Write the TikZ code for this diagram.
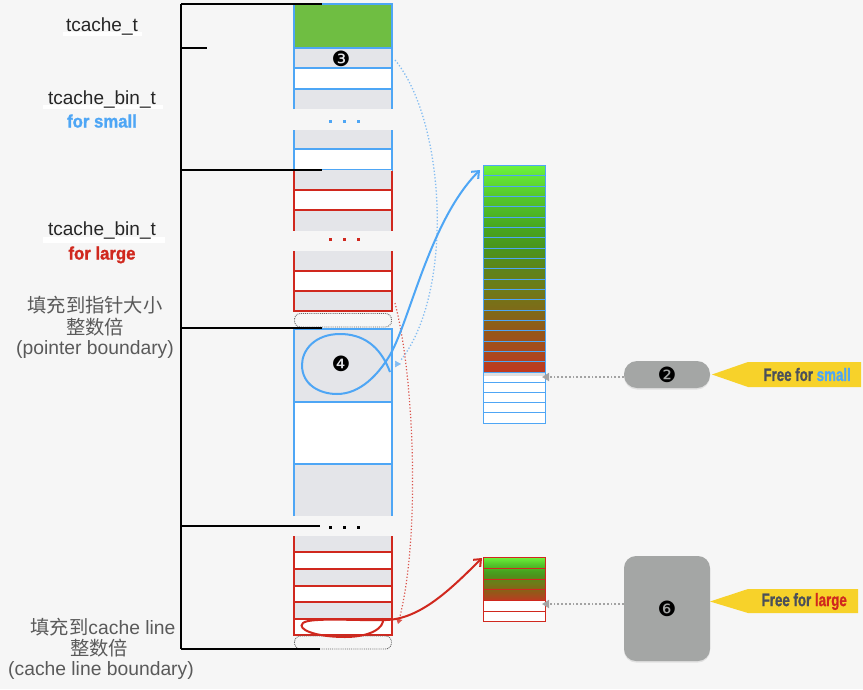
\documentclass[tikz,border=0pt]{standalone}
\usepackage{fontspec}
\setmainfont{Liberation Sans}
\newfontfamily\cjk{Noto Sans CJK SC}
\newfontfamily\dings{DejaVu Sans}
\newfontfamily\impactf[FakeBold=1.2]{Liberation Sans Bold}
\usetikzlibrary{arrows.meta,shadows}
\definecolor{bg}{HTML}{F6F6F6}
\definecolor{bl}{HTML}{4EA6F5}
\definecolor{lbl}{HTML}{84BDF2}
\definecolor{rd}{HTML}{D0281E}
\definecolor{rowg}{HTML}{E4E5E9}
\definecolor{grn}{HTML}{6FBE42}
\definecolor{pill}{HTML}{A4A6A5}
\definecolor{yel}{HTML}{F7D22A}
\definecolor{txtd}{HTML}{4A4F5A}
\definecolor{lab}{HTML}{5A5A5A}
\definecolor{arrg}{HTML}{A3A3A3}
\definecolor{hA}{HTML}{C0381F}
\definecolor{hB}{HTML}{A84A1E}
\definecolor{hC}{HTML}{945818}
\definecolor{hD}{HTML}{7E6A18}
\definecolor{hE}{HTML}{6F7A18}
\definecolor{hF}{HTML}{5E841A}
\definecolor{hG}{HTML}{4A951C}
\definecolor{hH}{HTML}{47A620}
\definecolor{hI}{HTML}{55C82C}
\definecolor{hJ}{HTML}{6CF23C}
\pgfdeclareverticalshading{heat}{100bp}{color(0bp)=(hA); color(25bp)=(hA); color(30bp)=(hB); color(35bp)=(hC); color(40bp)=(hD); color(45bp)=(hE); color(50bp)=(hF); color(55bp)=(hG); color(60bp)=(hH); color(67.5bp)=(hI); color(75bp)=(hJ); color(100bp)=(hJ)}
\newcommand{\impactb}[3]{\scalebox{#1}[1]{\fontsize{#2}{#2}\impactf #3}}
\begin{document}
\begin{tikzpicture}[x=1pt,y=-1pt,
  bline/.style={bl,line width=1.1},
  rline/.style={rd,line width=1.1},
  brk/.style={black,line width=1.2},
  lbltxt/.style={font=\fontsize{19}{19}\selectfont,text=black!85,anchor=base,inner sep=0},
  cjktxt/.style={font=\fontsize{19.3}{19.3}\selectfont,text=lab,anchor=base,inner sep=0},
  boundbox/.style={densely dotted,black!60,line width=0.9,rounded corners=6},
  pillbox/.style={fill=pill,draw=none,inner sep=0,drop shadow={shadow xshift=0pt,shadow yshift=-1.5pt,opacity=0.18}},
  numtxt/.style={font=\dings\fontsize{21}{21}\selectfont,inner sep=0},
  dotsq/.style={minimum size=3,inner sep=0,draw=none}]
\useasboundingbox (0,0) rectangle (863,689);
\fill[bg] (0,0) rectangle (863,689);

% ---------- main column ----------
% block A (tcache_t + small bins)
\fill[grn] (294,4) rectangle (392,48);
\fill[rowg] (294,48) rectangle (392,68);
\fill[white] (294,68) rectangle (392,89);
\fill[rowg] (294,89) rectangle (392,109);
\draw[bline] (294,109) -- (294,4) -- (392,4) -- (392,109);
\foreach \yy in {48,68,89} \draw[bline] (294,\yy) -- (392,\yy);
\fill[rowg] (294,130) rectangle (392,149);
\fill[white] (294,149) rectangle (392,170);
\draw[bline] (294,130) -- (294,170) -- (392,170) -- (392,130);
\draw[bline] (294,149) -- (392,149);
\foreach \xx/\nm in {330/a,344/b,358/c} \node[dotsq,fill=bl] (bd\nm) at (\xx,121) {};
% block C/D (large bins)
\fill[rowg] (294,170) rectangle (392,190);
\fill[white] (294,190) rectangle (392,210);
\fill[rowg] (294,210) rectangle (392,231);
\draw[rline] (294,170.6) -- (294,231);
\draw[rline] (392,170.6) -- (392,231);
\foreach \yy in {190,210} \draw[rline] (294,\yy) -- (392,\yy);
\foreach \xx/\nm in {330/a,344/b,358/c} \node[dotsq,fill=rd] (rd\nm) at (\xx,239) {};
\fill[rowg] (294,251) rectangle (392,271);
\fill[white] (294,271) rectangle (392,291);
\fill[rowg] (294,291) rectangle (392,311);
\draw[rline] (294,251) -- (294,311) -- (392,311) -- (392,251);
\foreach \yy in {271,291} \draw[rline] (294,\yy) -- (392,\yy);
\draw[boundbox] (294.5,313.5) rectangle (391.5,327);
% block E
\fill[rowg] (294,329) rectangle (392,402);
\fill[white] (294,402) rectangle (392,464);
\fill[rowg] (294,464) rectangle (392,516);
\draw[bline] (294,516) -- (294,329) -- (392,329) -- (392,516);
\foreach \yy in {402,464} \draw[bline] (294,\yy) -- (392,\yy);
\foreach \xx/\nm in {330/a,344/b,358/c} \node[dotsq,fill=black] (kd\nm) at (\xx,527.5) {};
% block F
\fill[rowg] (294,536) rectangle (392,552);
\fill[white] (294,552) rectangle (392,569);
\fill[rowg] (294,569) rectangle (392,586);
\fill[white] (294,586) rectangle (392,602);
\fill[rowg] (294,602) rectangle (392,619);
\fill[white] (294,619) rectangle (392,635);
\draw[rline] (294,536) -- (294,635) -- (392,635) -- (392,536);
\foreach \yy in {552,569,586,602,619} \draw[rline] (294,\yy) -- (392,\yy);
\draw[boundbox] (294.5,636) rectangle (391.5,649);

% numbers
\node[numtxt] (n3) at (341,59) {❸};
\node[numtxt] (n4) at (341,364) {❹};

% ---------- bracket ----------
\draw[brk] (181,4) -- (181,649);
\draw[brk] (181,4) -- (322,4);
\draw[brk] (181,48) -- (207,48);
\draw[brk] (181,170) -- (322,170);
\draw[brk] (181,328) -- (322,328);
\draw[brk] (181,526) -- (320,526);
\draw[brk] (181,649) -- (320,649);

% ---------- left labels ----------
\fill[white] (63,32) rectangle (142,35.5);
\node[lbltxt] (l1) at (102,31) {tcache\_t};
\fill[white] (43,105) rectangle (163,109);
\node[lbltxt] (l2) at (102,104) {tcache\_bin\_t};
\node[anchor=base,inner sep=0,text=bl] (l2b) at (102,127.5) {\impactb{0.93}{18}{for small}};
\fill[white] (43,237) rectangle (165,243);
\node[lbltxt] (l3) at (102,235) {tcache\_bin\_t};
\node[anchor=base,inner sep=0,text=rd] (l3b) at (102,259.5) {\impactb{0.93}{18}{for large}};

\node[cjktxt] (c1a) at (95,312) {{\cjk 填充到指针大小}};
\node[cjktxt] (c1b) at (95,334) {{\cjk 整数倍}};
\node[cjktxt] (c1c) at (95,354) {(pointer boundary)};
\node[cjktxt] (c2a) at (103,634) {{\cjk 填充到}cache line};
\node[cjktxt] (c2b) at (99,655) {{\cjk 整数倍}};
\node[cjktxt] (c2c) at (101,675) {(cache line boundary)};

% ---------- small-size cache column ----------
\fill[white] (483,372) rectangle (545,423);
\fill[black,opacity=0.12] (483,372) rectangle (545,375.5);
\shade[shading=heat] (483,165.3) rectangle (545,372);
\foreach \i in {1,...,19} \draw[bline,line width=0.9] (483,165.3+\i*10.335) -- (545,165.3+\i*10.335);
\foreach \i in {0,...,4} \draw[bline,line width=0.9] (483,372+\i*10.2) -- (545,372+\i*10.2);
\draw[bline,line width=0.9] (483,165.3) rectangle (545,423);
\coordinate (sTop) at (480,170);
\coordinate (sFree) at (542,377);

% ---------- large-size cache column ----------
\fill[white] (483,600.7) rectangle (545,621.7);
\shade[shading=heat] (483,557.3) rectangle (545,600.7);
\foreach \i in {1,2,3} \draw[rline,line width=0.9] (483,557.3+\i*10.85) -- (545,557.3+\i*10.85);
\foreach \i in {0,1} \draw[rline,line width=0.9] (483,600.7+\i*10.5) -- (545,600.7+\i*10.5);
\draw[rline,line width=0.9] (483,557.3) rectangle (545,621.7);
\coordinate (lTop) at (482,558);
\coordinate (lFree) at (542,604);

% ---------- free markers ----------
\node[pillbox,rounded corners=13,minimum width=86,minimum height=27] (p2) at (667,374.5) {};
\node[numtxt] at (p2) {❷};
\node[pillbox,rounded corners=12,minimum width=86,minimum height=105] (p6) at (667,608.5) {};
\node[numtxt] at (p6) {❻};

\fill[yel] (712,374.5) -- (748,362) -- (861,362) -- (861,387) -- (748,387) -- cycle;
\node[anchor=east,inner sep=0,text=txtd] (fs) at (851,374.5) {\impactb{0.74}{18}{Free for \textcolor{bl}{small}}};
\fill[yel] (710,601.5) -- (748,589) -- (858,589) -- (858,613) -- (748,613) -- cycle;
\node[anchor=east,inner sep=0,text=txtd] (fl) at (847,601.5) {\impactb{0.74}{18}{Free for \textcolor{rd}{large}}};

% gray dotted arrows
\draw[arrg,line width=1.8,dash pattern=on 1.8pt off 2pt,-{Triangle[length=7,width=8]}] (p2.west |- sFree) -- (sFree);
\draw[arrg,line width=1.8,dash pattern=on 1.8pt off 2pt,-{Triangle[length=7,width=8]}] (p6.west |- lFree) -- (lFree);

% ---------- curves ----------
\coordinate (b3) at (395,60);
\coordinate (b4) at (401,360);
\coordinate (b4t) at (401,364);
\draw[lbl,line width=1.3,dotted] (b3) .. controls (445,120) and (455,290) .. (b4);
\draw[lbl,line width=0.5,-{Triangle[length=6,width=6.5]}] ([xshift=-6.5pt]b4t) -- (b4t);
\coordinate (r1) at (395,303);
\coordinate (r2) at (398,624);
\draw[rd!80,line width=1.2,dotted,-{Triangle[length=5,width=6]}] (r1) .. controls (415,380) and (420,540) .. (r2);

\coordinate (bs) at (390,372);
\draw[bl,line width=2,-{Straight Barb[length=6,width=10]}] (bs) .. controls (380,345) and (362,334) .. (340,334)
  .. controls (315,334) and (302,350) .. (302,365)
  .. controls (302,385) and (320,394) .. (337,394)
  .. controls (360,394) and (378,375) .. (390,355)
  .. controls (410,320) and (430,220) .. (sTop);
\coordinate (rs) at (383,618);
\draw[rd,line width=2,-{Straight Barb[length=6,width=10]}] (rs) .. controls (385,628) and (370,637) .. (345,637)
  .. controls (315,637) and (296,629) .. (303,623)
  .. controls (310,617) and (360,621) .. (386,620)
  .. controls (420,619) and (450,590) .. (lTop);
\end{tikzpicture}
\end{document}
